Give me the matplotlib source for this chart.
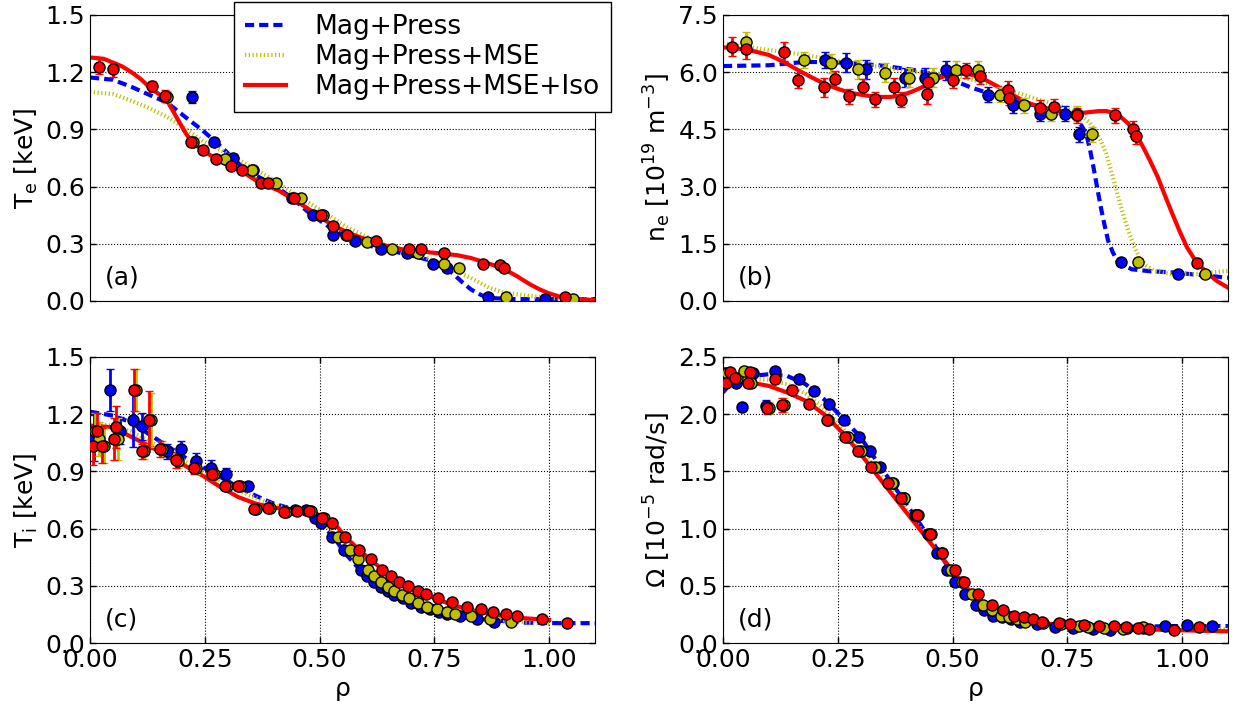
import numpy as np
import matplotlib
matplotlib.use('Agg')
import matplotlib.pyplot as plt

# ---------------- panel (a): electron temperature ----------------
rho_a_blue = [0.223, 0.269, 0.312, 0.354, 0.440, 0.485, 0.530, 0.578, 0.633, 0.691, 0.746, 0.777, 0.867, 0.992]
te_blue = [1.07, 0.835, 0.75, 0.688, 0.54, 0.449, 0.344, 0.312, 0.274, 0.249, 0.196, 0.172, 0.021, 0.010]
te_blue_err = [0.03, 0.02, 0.02, 0.015, 0.015, 0.015, 0.015, 0.015, 0.015, 0.015, 0.015, 0.015, 0.01, 0.01]

rho_a_yel = [0.168, 0.225, 0.294, 0.353, 0.406, 0.459, 0.507, 0.557, 0.604, 0.658, 0.715, 0.772, 0.804, 0.906, 1.052]
te_yel = [1.07, 0.835, 0.746, 0.688, 0.619, 0.540, 0.449, 0.344, 0.309, 0.274, 0.249, 0.193, 0.172, 0.021, 0.010]
te_yel_err = [0.03, 0.02, 0.02, 0.015, 0.015, 0.015, 0.015, 0.015, 0.015, 0.015, 0.015, 0.015, 0.015, 0.01, 0.01]

rho_a_red = [0.020, 0.050, 0.134, 0.164, 0.220, 0.245, 0.275, 0.306, 0.332, 0.372, 0.388, 0.445, 0.504, 0.529,
             0.560, 0.622, 0.694, 0.722, 0.772, 0.855, 0.894, 0.901, 1.034]
te_red = [1.228, 1.214, 1.126, 1.074, 0.835, 0.791, 0.746, 0.707, 0.686, 0.619, 0.619, 0.540, 0.449, 0.395,
          0.344, 0.312, 0.272, 0.272, 0.249, 0.196, 0.189, 0.172, 0.020]
te_red_err = [0.04, 0.04, 0.03, 0.03, 0.02, 0.02, 0.02, 0.015, 0.015, 0.015, 0.015, 0.015, 0.015, 0.015,
              0.015, 0.015, 0.015, 0.015, 0.015, 0.015, 0.015, 0.015, 0.01]

fit_a_red_x = [0, 0.03, 0.05, 0.07, 0.09, 0.11, 0.13, 0.15, 0.168, 0.181, 0.194, 0.207, 0.22, 0.245, 0.285,
               0.33, 0.37, 0.41, 0.448, 0.49, 0.526, 0.565, 0.604, 0.645, 0.682, 0.72, 0.76, 0.80, 0.83,
               0.85, 0.87, 0.885, 0.90, 0.915, 0.93, 0.945, 0.96, 0.98, 1.0, 1.02, 1.04, 1.07, 1.1]
fit_a_red = [1.277, 1.27, 1.25, 1.23, 1.20, 1.165, 1.12, 1.085, 1.05, 0.995, 0.94, 0.885, 0.84, 0.79, 0.73,
             0.68, 0.62, 0.58, 0.526, 0.46, 0.40, 0.355, 0.32, 0.29, 0.27, 0.26, 0.25, 0.24, 0.225,
             0.21, 0.195, 0.183, 0.17, 0.15, 0.13, 0.107, 0.085, 0.06, 0.04, 0.025, 0.015, 0.008, 0.005]
fit_a_blue_x = [0, 0.05, 0.09, 0.13, 0.168, 0.21, 0.245, 0.285, 0.324, 0.36, 0.402, 0.44, 0.48, 0.52, 0.557,
                0.60, 0.635, 0.68, 0.713, 0.745, 0.775, 0.79, 0.81, 0.83, 0.853, 0.87, 0.884, 0.92, 1.0, 1.1]
fit_a_blue = [1.172, 1.16, 1.123, 1.08, 1.04, 0.96, 0.895, 0.81, 0.72, 0.66, 0.605, 0.54, 0.456, 0.39, 0.335,
              0.295, 0.274, 0.25, 0.23, 0.21, 0.175, 0.145, 0.10, 0.06, 0.03, 0.018, 0.014, 0.01, 0.01, 0.01]
fit_a_yel_x = [0, 0.05, 0.09, 0.13, 0.168, 0.21, 0.245, 0.285, 0.324, 0.36, 0.402, 0.44, 0.48, 0.52, 0.557,
               0.60, 0.635, 0.68, 0.713, 0.75, 0.79, 0.83, 0.869, 0.90, 0.947, 1.0, 1.05, 1.1]
fit_a_yel = [1.096, 1.085, 1.05, 1.01, 0.965, 0.90, 0.84, 0.79, 0.74, 0.69, 0.632, 0.57, 0.51, 0.45, 0.39,
             0.34, 0.30, 0.27, 0.247, 0.21, 0.165, 0.12, 0.07, 0.045, 0.03, 0.015, 0.01, 0.008]

# ---------------- panel (b): electron density ----------------
rho_b_blue = [0.222, 0.268, 0.312, 0.397, 0.441, 0.485, 0.577, 0.631, 0.690, 0.744, 0.776, 0.867, 0.992]
ne_blue = [6.32, 6.25, 6.08, 5.85, 5.85, 6.05, 5.41, 5.13, 4.91, 4.91, 4.37, 1.02, 0.72]
ne_blue_err = [0.2, 0.25, 0.25, 0.25, 0.25, 0.25, 0.2, 0.2, 0.2, 0.2, 0.2, 0.05, 0.05]

rho_b_yel = [0.050, 0.176, 0.235, 0.294, 0.352, 0.406, 0.458, 0.507, 0.555, 0.603, 0.656, 0.714, 0.771,
             0.803, 0.905, 1.051]
ne_yel = [6.80, 6.32, 6.23, 6.08, 5.98, 5.85, 5.85, 6.05, 6.05, 5.41, 5.13, 4.91, 4.91, 4.37, 1.02, 0.70]
ne_yel_err = [0.25, 0.2, 0.25, 0.25, 0.25, 0.25, 0.25, 0.25, 0.25, 0.2, 0.2, 0.2, 0.2, 0.2, 0.05, 0.05]

rho_b_red = [0.020, 0.050, 0.133, 0.164, 0.219, 0.244, 0.274, 0.305, 0.332, 0.372, 0.387, 0.444, 0.446,
             0.502, 0.529, 0.560, 0.621, 0.622, 0.691, 0.721, 0.771, 0.853, 0.893, 0.899, 1.032]
ne_red = [6.67, 6.60, 6.54, 5.79, 5.60, 5.82, 5.37, 5.61, 5.29, 5.60, 5.28, 5.42, 5.75, 5.79, 6.05, 5.89,
          5.53, 5.33, 5.07, 5.09, 4.87, 4.87, 4.52, 4.32, 0.99]
ne_red_err = [0.25, 0.25, 0.25, 0.2, 0.25, 0.2, 0.2, 0.2, 0.2, 0.25, 0.2, 0.25, 0.2, 0.2, 0.2, 0.2, 0.25,
              0.2, 0.2, 0.2, 0.2, 0.2, 0.2, 0.2, 0.05]

fit_b_red_x = [0, 0.05, 0.10, 0.132, 0.164, 0.192, 0.22, 0.248, 0.276, 0.31, 0.34, 0.365, 0.388, 0.41,
               0.435, 0.452, 0.467, 0.487, 0.507, 0.527, 0.547, 0.563, 0.579, 0.599, 0.619, 0.639, 0.659,
               0.683, 0.707, 0.735, 0.763, 0.79, 0.819, 0.835, 0.851, 0.867, 0.883, 0.899, 0.915, 0.931,
               0.947, 0.963, 0.979, 0.995, 1.011, 1.027, 1.043, 1.059, 1.075, 1.1]
fit_b_red = [6.65, 6.60, 6.45, 6.27, 6.05, 5.87, 5.70, 5.57, 5.46, 5.39, 5.35, 5.35, 5.39, 5.48,
             5.61, 5.73, 5.83, 5.91, 5.96, 5.96, 5.92, 5.85, 5.75, 5.62, 5.48, 5.35, 5.22,
             5.12, 5.04, 4.96, 4.91, 4.94, 4.98, 4.98, 4.93, 4.82, 4.65, 4.38, 4.04, 3.66,
             3.25, 2.76, 2.28, 1.82, 1.40, 1.10, 0.88, 0.69, 0.53, 0.35]
fit_b_blue_x = [0, 0.10, 0.18, 0.26, 0.34, 0.42, 0.467, 0.50, 0.54, 0.58, 0.66, 0.74, 0.758, 0.771, 0.781,
                0.791, 0.799, 0.807, 0.815, 0.823, 0.831, 0.839, 0.849, 0.859, 0.875, 0.891, 0.93, 0.979, 1.1]
fit_b_blue = [6.16, 6.18, 6.27, 6.25, 6.18, 6.05, 5.92, 5.79, 5.60, 5.44, 5.18, 4.96, 4.87, 4.74, 4.60,
              4.39, 4.00, 3.51, 2.98, 2.46, 2.00, 1.58, 1.28, 1.05, 0.92, 0.83, 0.78, 0.75, 0.61]
fit_b_yel_x = [0, 0.10, 0.18, 0.26, 0.34, 0.42, 0.499, 0.579, 0.659, 0.739, 0.779, 0.797, 0.811, 0.823,
               0.835, 0.847, 0.859, 0.871, 0.883, 0.895, 0.907, 0.923, 0.939, 0.97, 1.019, 1.1]
fit_b_yel = [6.75, 6.58, 6.45, 6.27, 6.14, 6.01, 5.92, 5.70, 5.39, 5.09, 4.87, 4.70, 4.47, 4.20,
             3.86, 3.35, 2.81, 2.30, 1.84, 1.45, 1.14, 0.92, 0.79, 0.72, 0.70, 0.79]

# ---------------- panel (c): ion temperature ----------------
rho_c_blue = [0.009, 0.043, 0.065, 0.093, 0.114, 0.167, 0.198, 0.231, 0.264, 0.296, 0.344, 0.447, 0.471,
              0.489, 0.504, 0.528, 0.553, 0.590, 0.603, 0.619, 0.633, 0.648, 0.663, 0.681, 0.700, 0.720,
              0.740, 0.760, 0.778, 0.805, 0.843, 0.879]
ti_blue = [1.075, 1.326, 1.114, 1.169, 1.136, 1.006, 1.018, 0.957, 0.918, 0.887, 0.823, 0.696, 0.696,
           0.657, 0.631, 0.557, 0.490, 0.383, 0.351, 0.318, 0.295, 0.274, 0.253, 0.234, 0.212, 0.191,
           0.177, 0.165, 0.151, 0.142, 0.128, 0.109]
ti_blue_err = [0.12, 0.11, 0.07, 0.14, 0.07, 0.04, 0.04, 0.04, 0.04, 0.03, 0.02, 0.01, 0.01, 0.01, 0.01,
               0.01, 0.01, 0.01, 0.01, 0.01, 0.01, 0.01, 0.01, 0.01, 0.01, 0.01, 0.01, 0.01, 0.01, 0.01,
               0.01, 0.01]

rho_c_yel = [0.010, 0.019, 0.031, 0.057, 0.061, 0.100, 0.118, 0.132, 0.156, 0.191, 0.230, 0.269, 0.299,
             0.327, 0.362, 0.392, 0.426, 0.481, 0.510, 0.541, 0.566, 0.584, 0.605, 0.619, 0.633, 0.649,
             0.663, 0.679, 0.695, 0.714, 0.735, 0.755, 0.777, 0.795, 0.829, 0.872, 0.916]
ti_yel = [1.114, 1.070, 1.035, 1.131, 1.070, 1.326, 1.006, 1.169, 1.018, 0.957, 0.918, 0.887, 0.823,
          0.823, 0.701, 0.710, 0.685, 0.692, 0.657, 0.557, 0.487, 0.443, 0.383, 0.351, 0.318, 0.295,
          0.274, 0.253, 0.234, 0.212, 0.191, 0.177, 0.165, 0.151, 0.142, 0.128, 0.109]
ti_yel_err = [0.09, 0.09, 0.09, 0.11, 0.11, 0.11, 0.04, 0.14, 0.04, 0.04, 0.03, 0.03, 0.02, 0.02, 0.01,
              0.01, 0.01, 0.01, 0.01, 0.01, 0.01, 0.01, 0.01, 0.01, 0.01, 0.01, 0.01, 0.01, 0.01, 0.01,
              0.01, 0.01, 0.01, 0.01, 0.01, 0.01, 0.01]

rho_c_red = [0.006, 0.015, 0.027, 0.053, 0.057, 0.096, 0.114, 0.128, 0.152, 0.187, 0.226, 0.265, 0.295,
             0.323, 0.358, 0.388, 0.422, 0.451, 0.477, 0.506, 0.527, 0.556, 0.586, 0.611, 0.637, 0.655,
             0.673, 0.693, 0.714, 0.732, 0.759, 0.788, 0.821, 0.851, 0.878, 0.905, 0.929, 0.984, 1.039]
ti_red = [1.035, 1.114, 1.035, 1.070, 1.131, 1.326, 1.006, 1.169, 1.018, 0.960, 0.918, 0.887, 0.823,
          0.823, 0.701, 0.710, 0.685, 0.692, 0.692, 0.657, 0.631, 0.557, 0.490, 0.443, 0.383, 0.351,
          0.318, 0.299, 0.274, 0.255, 0.234, 0.213, 0.191, 0.177, 0.165, 0.151, 0.142, 0.126, 0.107]
ti_red_err = [0.10, 0.09, 0.09, 0.11, 0.11, 0.11, 0.04, 0.15, 0.04, 0.04, 0.03, 0.03, 0.02, 0.02, 0.01,
              0.01, 0.01, 0.01, 0.01, 0.01, 0.01, 0.01, 0.01, 0.01, 0.01, 0.01, 0.01, 0.01, 0.01, 0.01,
              0.01, 0.01, 0.01, 0.01, 0.01, 0.01, 0.01, 0.01, 0.01]

fit_c_red_x = [0, 0.051, 0.089, 0.128, 0.167, 0.206, 0.245, 0.284, 0.323, 0.362, 0.401, 0.440, 0.479,
               0.510, 0.533, 0.556, 0.595, 0.634, 0.673, 0.712, 0.751, 0.790, 0.829, 0.868, 0.907, 0.946, 1.0]
fit_c_red = [1.14, 1.131, 1.082, 1.035, 0.983, 0.931, 0.878, 0.818, 0.765, 0.730, 0.710, 0.696, 0.691,
             0.661, 0.626, 0.557, 0.469, 0.391, 0.330, 0.278, 0.234, 0.199, 0.173, 0.156, 0.138, 0.130, 0.121]
fit_c_blue_x = [0, 0.051, 0.089, 0.128, 0.167, 0.206, 0.245, 0.284, 0.323, 0.362, 0.401, 0.440, 0.479,
                0.510, 0.533, 0.556, 0.595, 0.634, 0.673, 0.712, 0.751, 0.790, 0.829, 0.868, 0.946, 1.023, 1.1]
fit_c_blue = [1.213, 1.192, 1.157, 1.096, 1.035, 0.974, 0.922, 0.870, 0.818, 0.771, 0.730, 0.704, 0.670,
              0.609, 0.548, 0.469, 0.365, 0.287, 0.243, 0.199, 0.170, 0.147, 0.133, 0.121, 0.107, 0.104, 0.104]
fit_c_yel_x = [0, 0.051, 0.089, 0.128, 0.167, 0.206, 0.245, 0.284, 0.323, 0.362, 0.401, 0.440, 0.479,
               0.510, 0.533, 0.556, 0.595, 0.634, 0.673, 0.712, 0.751, 0.790, 0.829, 0.868, 0.946, 1.0]
fit_c_yel = [1.15, 1.14, 1.11, 1.06, 1.01, 0.955, 0.90, 0.85, 0.80, 0.76, 0.725, 0.70, 0.675, 0.625, 0.57,
             0.50, 0.40, 0.31, 0.26, 0.215, 0.18, 0.155, 0.138, 0.125, 0.11, 0.10]

# ---------------- panel (d): rotation ----------------
rho_d_blue = [0.002, 0.028, 0.042, 0.066, 0.093, 0.114, 0.165, 0.199, 0.230, 0.264, 0.296, 0.320, 0.343,
              0.371, 0.395, 0.419, 0.446, 0.467, 0.487, 0.506, 0.528, 0.551, 0.569, 0.589, 0.607, 0.627,
              0.647, 0.683, 0.723, 0.763, 0.805, 0.843, 0.879, 0.915, 0.962, 1.011, 1.066]
om_blue = [2.363, 2.276, 2.059, 2.363, 2.073, 2.378, 2.305, 2.204, 2.093, 1.948, 1.797, 1.675, 1.542,
           1.40, 1.269, 1.121, 0.949, 0.787, 0.636, 0.531, 0.424, 0.331, 0.287, 0.238, 0.224, 0.206,
           0.186, 0.163, 0.142, 0.134, 0.122, 0.113, 0.128, 0.134, 0.148, 0.157, 0.148]
om_blue_err = [0.03, 0.03, 0.03, 0.03, 0.05, 0.03, 0.03, 0.03, 0.03, 0.02, 0.02, 0.02, 0.02, 0.02, 0.02,
               0.02, 0.02, 0.02, 0.02, 0.02, 0.02, 0.01, 0.01, 0.01, 0.01, 0.01, 0.01, 0.01, 0.01, 0.01,
               0.01, 0.01, 0.01, 0.01, 0.01, 0.01, 0.01]

rho_d_yel = [0.008, 0.030, 0.046, 0.061, 0.100, 0.132, 0.229, 0.272, 0.301, 0.331, 0.368, 0.394, 0.424,
             0.453, 0.477, 0.496, 0.520, 0.543, 0.566, 0.587, 0.605, 0.623, 0.640, 0.657, 0.697, 0.736,
             0.776, 0.796, 0.831, 0.872, 0.915]
om_yel = [2.363, 2.32, 2.378, 2.27, 2.053, 2.082, 1.948, 1.797, 1.675, 1.542, 1.40, 1.269, 1.121, 0.949,
          0.787, 0.636, 0.531, 0.424, 0.331, 0.287, 0.238, 0.224, 0.206, 0.186, 0.171, 0.163, 0.148,
          0.136, 0.128, 0.122, 0.142]
om_yel_err = [0.03, 0.03, 0.03, 0.03, 0.05, 0.06, 0.03, 0.02, 0.02, 0.02, 0.02, 0.02, 0.02, 0.02, 0.02,
              0.02, 0.02, 0.02, 0.01, 0.01, 0.01, 0.01, 0.01, 0.01, 0.01, 0.01, 0.01, 0.01, 0.01, 0.01, 0.01]

rho_d_red = [0.006, 0.015, 0.026, 0.054, 0.058, 0.096, 0.114, 0.129, 0.151, 0.188, 0.226, 0.265, 0.294,
             0.323, 0.359, 0.387, 0.422, 0.452, 0.478, 0.506, 0.526, 0.556, 0.585, 0.609, 0.635, 0.655,
             0.675, 0.694, 0.732, 0.757, 0.787, 0.820, 0.851, 0.878, 0.905, 0.929, 0.982, 1.038]
om_red = [2.276, 2.366, 2.32, 2.27, 2.37, 2.053, 2.305, 2.082, 2.21, 2.093, 1.948, 1.797, 1.675, 1.542,
          1.40, 1.269, 1.121, 0.949, 0.787, 0.636, 0.531, 0.424, 0.331, 0.287, 0.238, 0.224, 0.206,
          0.186, 0.171, 0.163, 0.154, 0.148, 0.148, 0.136, 0.128, 0.122, 0.113, 0.142]
om_red_err = [0.03, 0.03, 0.03, 0.03, 0.03, 0.05, 0.03, 0.06, 0.03, 0.03, 0.02, 0.02, 0.02, 0.02, 0.02,
              0.02, 0.02, 0.02, 0.02, 0.02, 0.02, 0.01, 0.01, 0.01, 0.01, 0.01, 0.01, 0.01, 0.01, 0.01,
              0.01, 0.01, 0.01, 0.01, 0.01, 0.01, 0.01, 0.01]

fit_d_x = [0, 0.02, 0.06, 0.10, 0.14, 0.18, 0.22, 0.26, 0.30, 0.339, 0.379, 0.419, 0.459, 0.499, 0.539,
           0.559, 0.579, 0.599, 0.619, 0.639, 0.659, 0.699, 0.739, 0.819, 0.899, 0.978, 1.1]
fit_d_red = [2.218, 2.268, 2.277, 2.247, 2.189, 2.117, 2.00, 1.84, 1.652, 1.449, 1.246, 1.042, 0.839,
             0.636, 0.447, 0.375, 0.316, 0.272, 0.238, 0.213, 0.195, 0.172, 0.157, 0.136, 0.122, 0.113, 0.102]
fit_d_blue = [2.189, 2.29, 2.334, 2.349, 2.334, 2.262, 2.131, 1.971, 1.797, 1.565, 1.333, 1.10, 0.868,
              0.607, 0.404, 0.328, 0.273, 0.238, 0.215, 0.198, 0.186, 0.168, 0.157, 0.142, 0.142, 0.148, 0.148]
fit_d_yel = [2.25, 2.28, 2.31, 2.30, 2.26, 2.18, 2.05, 1.88, 1.70, 1.49, 1.28, 1.06, 0.85, 0.63, 0.43,
             0.355, 0.30, 0.26, 0.23, 0.205, 0.19, 0.172, 0.16, 0.14, 0.125, 0.12, 0.12]

labels = ['Mag+Press', 'Mag+Press+MSE', 'Mag+Press+MSE+Iso']
colors = ['b', 'y', 'r']


def draw_fit(ax, x, y, which):
    if which == 0:
        return ax.plot(x, y, color='b', lw=3, linestyle=(0, (2.2, 1.2)), zorder=2)[0]
    if which == 1:
        return ax.plot(x, y, color='y', lw=3, linestyle=(0, (0.3, 0.6)), zorder=2)[0]
    return ax.plot(x, y, color='r', lw=3, linestyle='-', zorder=2)[0]


def draw_data(ax, x, y, e, c):
    ax.errorbar(x, y, yerr=e, fmt='o', color=c, ecolor=c, mec='k', mew=1, ms=8,
                elinewidth=2, capsize=3, capthick=1.5, zorder=3)


fig = plt.figure(figsize=(12.35, 7.08), dpi=100)
ax_a = fig.add_axes([0.0729, 0.5749, 0.4089, 0.4040])
ax_b = fig.add_axes([0.5854, 0.5749, 0.4089, 0.4040])
ax_c = fig.add_axes([0.0729, 0.0918, 0.4089, 0.4040])
ax_d = fig.add_axes([0.5854, 0.0918, 0.4089, 0.4040])

panels = [
    (ax_a, [(fit_a_blue_x, fit_a_blue), (fit_a_yel_x, fit_a_yel), (fit_a_red_x, fit_a_red)],
     [(rho_a_blue, te_blue, te_blue_err), (rho_a_yel, te_yel, te_yel_err), (rho_a_red, te_red, te_red_err)]),
    (ax_b, [(fit_b_blue_x, fit_b_blue), (fit_b_yel_x, fit_b_yel), (fit_b_red_x, fit_b_red)],
     [(rho_b_blue, ne_blue, ne_blue_err), (rho_b_yel, ne_yel, ne_yel_err), (rho_b_red, ne_red, ne_red_err)]),
    (ax_c, [(fit_c_blue_x, fit_c_blue), (fit_c_yel_x, fit_c_yel), (fit_c_red_x, fit_c_red)],
     [(rho_c_blue, ti_blue, ti_blue_err), (rho_c_yel, ti_yel, ti_yel_err), (rho_c_red, ti_red, ti_red_err)]),
    (ax_d, [(fit_d_x, fit_d_blue), (fit_d_x, fit_d_yel), (fit_d_x, fit_d_red)],
     [(rho_d_blue, om_blue, om_blue_err), (rho_d_yel, om_yel, om_yel_err), (rho_d_red, om_red, om_red_err)]),
]

handles = []
for ax, fits, data in panels:
    hs = [draw_fit(ax, fx, fy, i) for i, (fx, fy) in enumerate(fits)]
    if ax is ax_a:
        handles = hs
    for (x, y, e), c in zip(data, colors):
        draw_data(ax, x, y, e, c)
    ax.set_xlim(0, 1.1)
    ax.grid(True, color='k', linestyle=':', linewidth=0.8)
    ax.tick_params(direction='in', length=4, width=1, top=True, right=True, labelsize=18)

ax_a.set_ylim(0, 1.5)
ax_a.set_yticks(np.arange(0, 1.51, 0.3))
ax_b.set_ylim(0, 7.5)
ax_b.set_yticks(np.arange(0, 7.51, 1.5))
ax_c.set_ylim(0, 1.5)
ax_c.set_yticks(np.arange(0, 1.51, 0.3))
ax_d.set_ylim(0, 2.5)
ax_d.set_yticks(np.arange(0, 2.51, 0.5))

for ax in (ax_a, ax_b):
    ax.set_xticks([])
for ax in (ax_c, ax_d):
    ax.set_xticks([0, 0.25, 0.5, 0.75, 1.0])
    ax.set_xlabel('ρ', fontsize=18)

ax_a.set_ylabel(r'T$_\mathrm{e}$ [keV]', fontsize=18)
ax_b.set_ylabel(r'n$_\mathrm{e}$ [10$^{19}$ m$^{-3}$]', fontsize=18)
ax_c.set_ylabel(r'T$_\mathrm{i}$ [keV]', fontsize=18)
ax_d.set_ylabel(r'Ω [10$^{-5}$ rad/s]', fontsize=18)

for ax, tag in zip((ax_a, ax_b, ax_c, ax_d), ('(a)', '(b)', '(c)', '(d)')):
    ax.text(0.03, 0.04, tag, transform=ax.transAxes, fontsize=18, va='bottom', ha='left')

leg = ax_a.legend(handles, labels, loc='upper right', bbox_to_anchor=(1.032, 1.045), fontsize=19,
                  frameon=True, fancybox=False, framealpha=1, edgecolor='k', labelspacing=0.15,
                  handlelength=1.55, handletextpad=1.05, borderpad=0.45, borderaxespad=0)
leg.get_frame().set_linewidth(1)
leg.set_zorder(10)

fig.savefig('out.png', dpi=100)
